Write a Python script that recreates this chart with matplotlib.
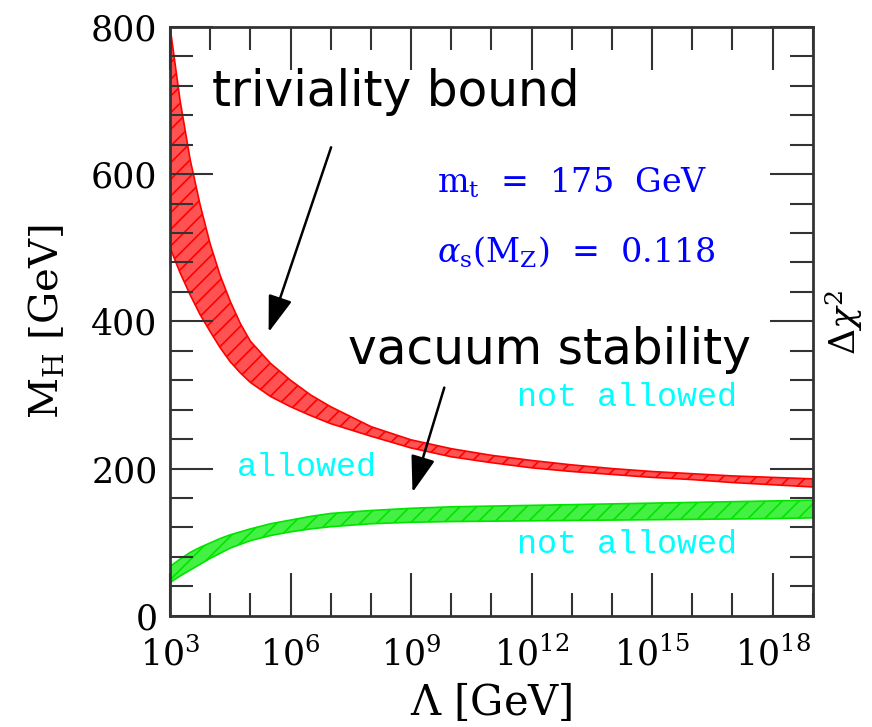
import numpy as np
import matplotlib
matplotlib.use("Agg")
import matplotlib.pyplot as plt
from matplotlib.ticker import MultipleLocator, FixedLocator, NullFormatter

plt.rcParams['mathtext.fontset'] = 'dejavuserif'
plt.rcParams['hatch.linewidth'] = 1.2

# log10(Lambda / GeV)
log_lam = [3, 3.25, 3.5, 3.75, 4, 4.25, 4.5, 4.75, 5, 5.5, 6, 6.5, 7, 8, 9, 10, 11, 12,
           13, 14, 15, 16, 17, 18, 19]

# triviality bound band (M_H in GeV)
triv_upper = [800, 700, 620, 558, 505, 462, 427, 397, 373, 343, 320, 300, 284, 257, 239,
              227, 218, 211, 205, 200, 196, 193, 190, 188, 186]
triv_lower = [500, 466, 436, 409, 386, 364, 345, 330, 317, 298, 284, 272, 261, 244, 228,
              216, 208, 201, 196, 192, 188, 185, 181, 178, 175]

# vacuum stability band
vac_upper = [67, 77, 86, 93, 99, 105, 110, 114, 118, 125, 130, 135, 139, 143, 146, 148,
             149, 150, 151, 152, 153, 154, 155, 156, 157]
vac_lower = [45, 54, 62, 70, 78, 85, 92, 97, 102, 109, 114, 118, 121, 125, 127, 128,
             128.5, 129, 129.5, 130, 130.5, 131, 131.5, 132, 133]

lam = 10.0 ** np.array(log_lam)

fig = plt.figure(figsize=(8.72, 7.27), dpi=100)
ax = fig.add_axes([0.195, 0.153, 0.737, 0.81])

ax.fill_between(lam, triv_lower, triv_upper, facecolor='#ff5252', edgecolor='#ff0000',
                hatch='//', linewidth=1.2)
ax.fill_between(lam, vac_lower, vac_upper, facecolor='#44f044', edgecolor='#00e400',
                hatch='//', linewidth=1.2)

ax.set_xscale('log')
ax.set_xlim(1e3, 1e19)
ax.set_ylim(0, 800)

major_x = [1e3, 1e6, 1e9, 1e12, 1e15, 1e18]
ax.xaxis.set_major_locator(FixedLocator(major_x))
ax.xaxis.set_minor_locator(FixedLocator([10.0 ** k for k in range(3, 20) if k % 3 != 0]))
ax.xaxis.set_minor_formatter(NullFormatter())
ax.set_xticklabels([r'$10^{%d}$' % int(np.log10(v)) for v in major_x])
ax.yaxis.set_major_locator(MultipleLocator(200))
ax.yaxis.set_minor_locator(MultipleLocator(40))

ax.tick_params(which='both', direction='in', top=True, right=True, color='#333333',
               labelsize=25, labelfontfamily='DejaVu Serif')
ax.tick_params(which='major', length=31, width=1.5, pad=9)
ax.tick_params(axis='x', which='major', pad=15)
ax.tick_params(which='minor', length=16.5, width=1.5)
for sp in ax.spines.values():
    sp.set_linewidth(2)
    sp.set_color('#333333')

ax.set_xlabel(r'$\Lambda$ [GeV]', fontsize=30, family='DejaVu Serif', labelpad=6)
ax.set_ylabel(r'$\mathrm{M_H}$ [GeV]', fontsize=29, family='DejaVu Serif', labelpad=18)
fig.text(0.968, 0.557, r'$\Delta\chi^2$', rotation=90, fontsize=26, ha='center', va='center')

# annotations
ax.text(0.351, 0.89, 'triviality bound', transform=ax.transAxes, fontsize=35,
        ha='center', va='center', family='DejaVu Sans')
ax.text(0.591, 0.452, 'vacuum stability', transform=ax.transAxes, fontsize=35,
        ha='center', va='center', family='DejaVu Sans')
ax.annotate('', xy=(0.152, 0.477), xytext=(0.252, 0.80), xycoords='axes fraction',
            arrowprops=dict(arrowstyle='-|>,head_length=0.9,head_width=0.3', color='black',
                            lw=1.8, mutation_scale=25))
ax.annotate('', xy=(0.376, 0.205), xytext=(0.428, 0.392), xycoords='axes fraction',
            arrowprops=dict(arrowstyle='-|>,head_length=0.9,head_width=0.3', color='black',
                            lw=1.8, mutation_scale=25))

ax.text(0.415, 0.735, r'$\mathrm{m_t}$  =  175  GeV', transform=ax.transAxes, fontsize=24,
        ha='left', va='center', color='#0000ff', family='DejaVu Serif')
ax.text(0.415, 0.618, r'$\alpha_\mathrm{s}(\mathrm{M_Z})$  =  0.118', transform=ax.transAxes,
        fontsize=24, ha='left', va='center', color='#0000ff', family='DejaVu Serif')

ax.text(0.711, 0.370, 'not allowed', transform=ax.transAxes, fontsize=24,
        ha='center', va='center', color='#00ffff', family='Liberation Mono')
ax.text(0.213, 0.251, 'allowed', transform=ax.transAxes, fontsize=24,
        ha='center', va='center', color='#00ffff', family='Liberation Mono')
ax.text(0.711, 0.121, 'not allowed', transform=ax.transAxes, fontsize=24,
        ha='center', va='center', color='#00ffff', family='Liberation Mono')

fig.savefig('out.png', dpi=100)
